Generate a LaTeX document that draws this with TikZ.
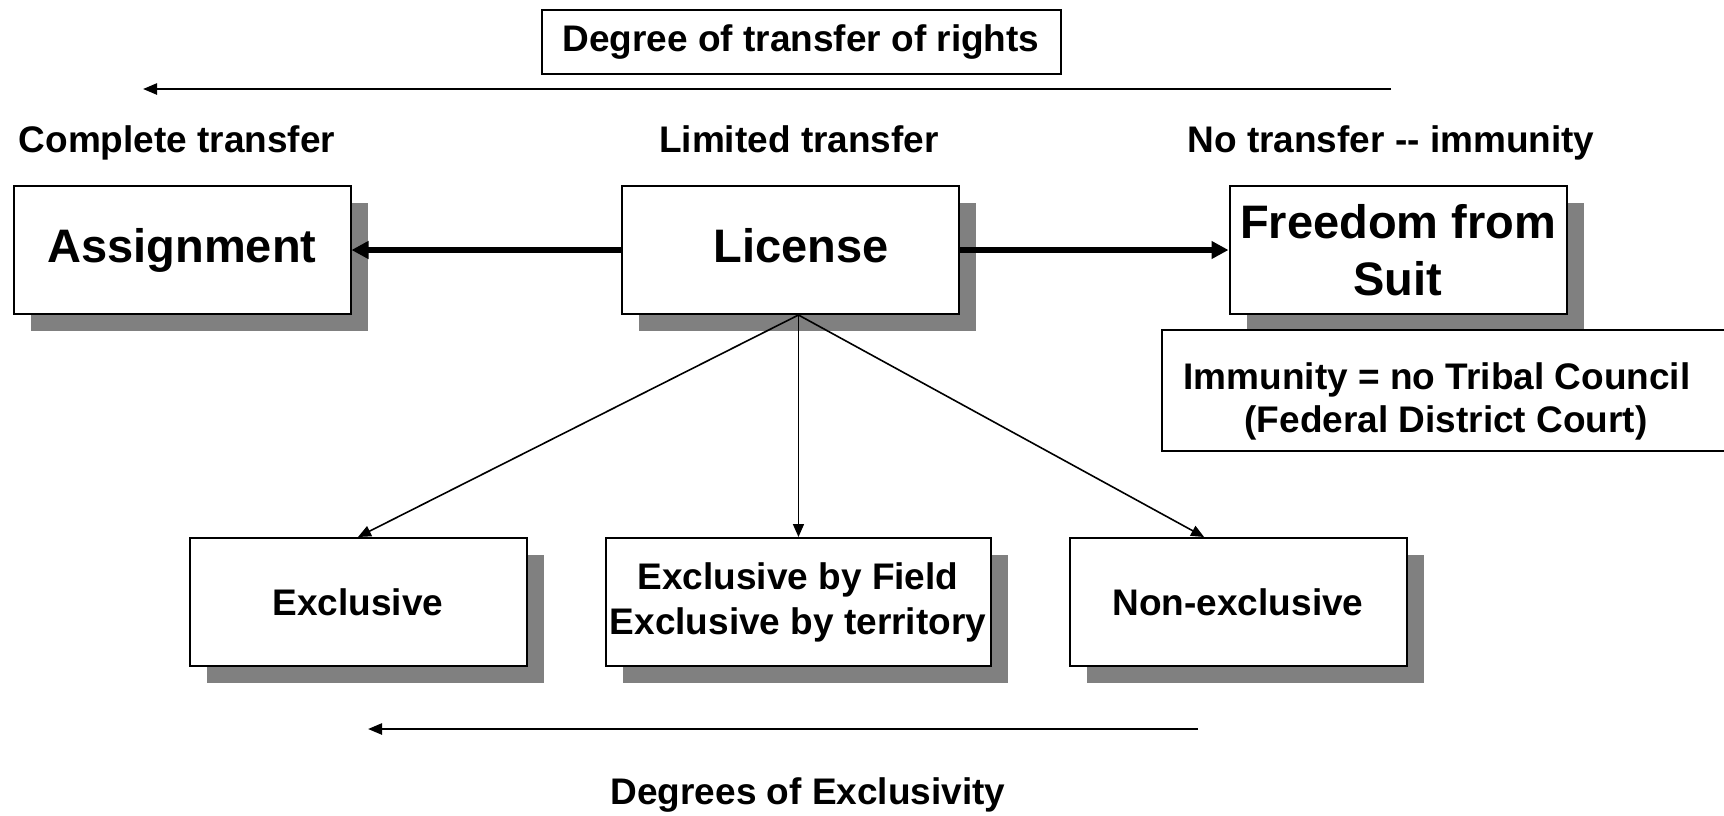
\documentclass[tikz,border=0pt]{standalone}
\usepackage{fontspec}
\setmainfont{Liberation Sans}
\usetikzlibrary{arrows.meta,shadows,calc}
\definecolor{shadowgray}{RGB}{128,128,128}

\begin{document}
\begin{tikzpicture}
  [
  x=0.5pt, y=-0.5pt,
  font=\bfseries\fontsize{18.5}{22.5}\selectfont,
  plainbox/.style={draw, line width=1pt, fill=white, align=center, inner sep=2pt},
  bigbox/.style={plainbox, minimum width=168.5pt, minimum height=64pt,
    font=\bfseries\fontsize{23.5}{28.5}\selectfont,
    drop shadow={shadow xshift=8.5pt, shadow yshift=-8.5pt, fill=shadowgray, opacity=1}},
  smallbox/.style={bigbox, font=\bfseries\fontsize{18.5}{22.5}\selectfont},
  toplabel/.style={anchor=base},
  thickarrow/.style={draw, -{Triangle[length=8.5pt,width=8.5pt]}, line width=2.6pt},
  longarrow/.style={draw, -{Triangle[length=7pt,width=5.5pt]}, line width=1.2pt},
  thinarrow/.style={draw, -{Triangle[length=6.5pt,width=5.5pt]}, line width=0.8pt}
  ]
  \useasboundingbox (0,0) rectangle (1724,815);
  \clip (0,0) rectangle (1724,815);

  % top title and arrow
  \node[plainbox, minimum width=259.5pt, minimum height=32pt] (title) at (801,42) {Degree of transfer of rights};
  \coordinate (tstart) at (1391,89);
  \coordinate (tend) at (143,89);
  \draw[longarrow] (tstart) -- (tend);

  \node[toplabel] (lcomplete) at (177,152) {Complete transfer};
  \node[toplabel] (llimited) at (799,152) {Limited transfer};
  \node[toplabel] (lnone) at (1391,152) {No transfer -{}- immunity};

  % main row
  \node[bigbox] (assign) at (182,250) {Assignment};
  \node[bigbox, text depth=4.9pt] (lic) at (790,250) {\hspace*{11pt}License};
  \node[bigbox] (free) at (1398,250) {Freedom from\\Suit};
  \node[plainbox, minimum width=284pt, minimum height=60.5pt,
    font=\bfseries\fontsize{18.5}{21.5}\selectfont, text height=46.3pt] (immun) at (1446,390)
    {Immunity = no Tribal Council\hspace*{9pt}\\(Federal District Court)};

  \draw[thickarrow] (lic) -- (assign);
  \draw[thickarrow] (lic) -- (free);

  % kinds of license
  \node[smallbox] (excl) at (358,602) {Exclusive};
  \node[smallbox, minimum width=192.5pt] (field) at (798,602) {Exclusive by Field\\Exclusive by territory};
  \node[smallbox] (nonex) at (1238,602) {Non-exclusive};

  \coordinate (licbot) at ($(lic.south west)!0.525!(lic.south east)$);
  \draw[thinarrow] (licbot) -- (excl.north);
  \draw[thinarrow] (licbot) -- (licbot |- field.north);
  \draw[thinarrow] (licbot) -- ($(nonex.north west)!0.4!(nonex.north east)$);

  % bottom arrow
  \coordinate (bstart) at (1198,729);
  \coordinate (bend) at (368,729);
  \draw[longarrow] (bstart) -- (bend);
  \node (lexcl) at (808,795) {Degrees of Exclusivity};
\end{tikzpicture}
\end{document}
